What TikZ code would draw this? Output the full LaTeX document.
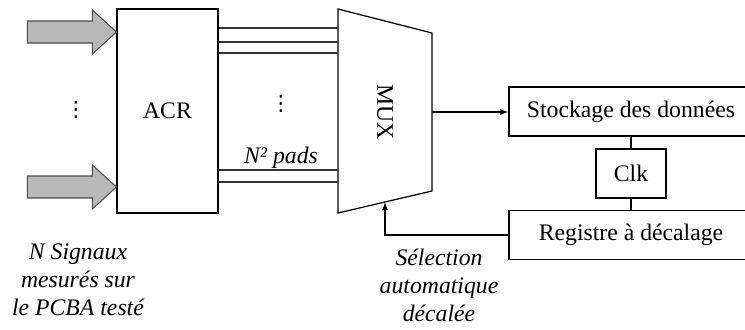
\documentclass[tikz,border=0pt]{standalone}
\usepackage{fontspec}
\setmainfont{Liberation Serif}
\newfontfamily\dotsfont{DejaVu Sans}
\usepackage{tikz}
\usetikzlibrary{arrows.meta,calc,positioning}

\begin{document}
\begin{tikzpicture}[
  x=0.02cm, y=-0.02cm,
  font=\fontsize{13.5}{16}\selectfont,
  block/.style={draw=black, line width=.7pt, minimum height=0.98cm, inner sep=0pt, align=center},
  bigarrow/.style={draw=black!70, line width=.6pt, fill=black!28},
  bus/.style={draw=black!80, line width=.6pt},
  wire/.style={draw=black, line width=.7pt},
  sig/.style={-{Latex[length=1.6mm,width=1.2mm]}, line width=.7pt, draw=black},
  vdotnode/.style={inner sep=0pt, font=\dotsfont\fontsize{12}{12}\selectfont},
  note/.style={font=\itshape\fontsize{13.5}{16}\selectfont, align=center, inner sep=0pt}
]
  \useasboundingbox (0,0) rectangle (745,329);

  % ACR block and the input signals
  \node[block, minimum width=2.02cm, minimum height=4.08cm] (acr) at (167.5,111) {ACR};
  \coordinate (in1) at (acr.west |- 0,32);
  \coordinate (in2) at (acr.west |- 0,187);
  \foreach \p in {in1,in2} {
    \draw[bigarrow] (\p) -- ++(-24,22) -- ++(0,-11) -- ++(-65,0) -- ++(0,-22) -- ++(65,0) -- ++(0,-11) -- cycle;
  }
  \node[vdotnode] (indots) at (76,110) {⋮};

  % multiplexer
  \coordinate (m1) at (338,9);
  \coordinate (m2) at (432,33);
  \coordinate (m3) at (432,191);
  \coordinate (m4) at (338,213);
  \draw[wire] (m1) -- (m2) -- (m3) -- (m4) -- cycle;
  \node[rotate=-90] (mux) at (385,112) {MUX};
  \coordinate (muxout) at ($(m2)!0.5!(m3)$);
  \coordinate (muxsel) at ($(m4)!0.5!(m3)$);

  % pads between ACR and MUX
  \foreach \y in {28,42,53,170,182} {
    \draw[bus] (acr.east |- 0,\y) -- (m1 |- 0,\y);
  }
  \node[vdotnode] (paddots) at (281,104) {⋮};
  \node[note] (pads) at (281,158) {N² pads};

  % storage, clock and shift register
  \node[block, minimum width=4.88cm] (stock) at (631,111.5) {Stockage des données};
  \node[block, minimum width=1.4cm] (clk) at (631,173.5) {Clk};
  \node[block, minimum width=4.88cm] (reg) at (631,235) {Registre à décalage};
  \draw[wire] (stock.south) -- (clk.north);
  \draw[wire] (clk.south) -- (reg.north);

  \draw[sig] (muxout) -- (stock.west |- muxout);
  \draw[sig] (reg.west) -| (muxsel);

  % captions
  \node[note] (sel) at (439,285) {Sélection\\automatique\\décalée};
  \node[note] (signals) at (78,280) {N Signaux\\mesurés sur\\le PCBA testé};
\end{tikzpicture}
\end{document}
